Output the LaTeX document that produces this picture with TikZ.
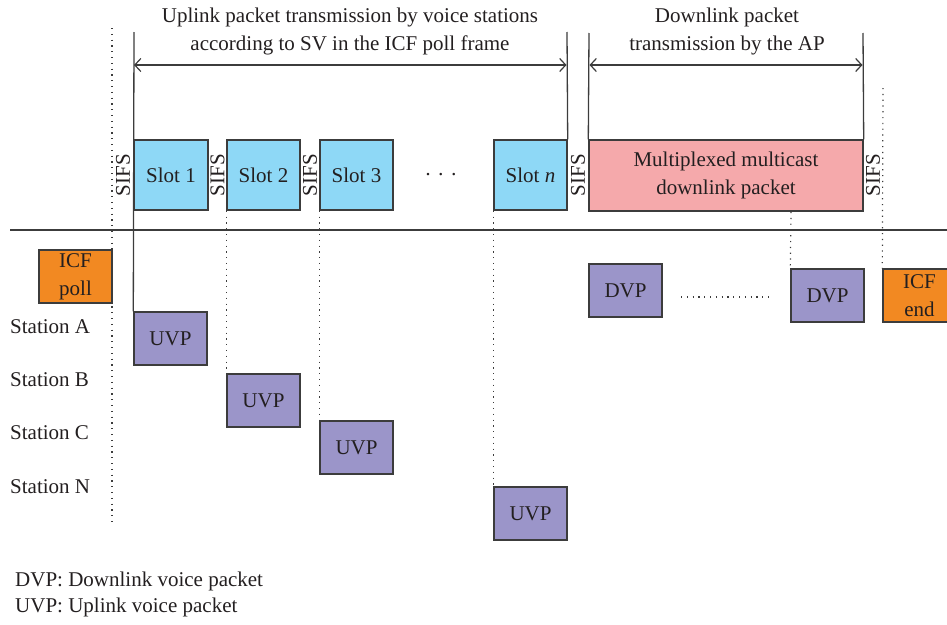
\documentclass[tikz,border=0pt]{standalone}
\usepackage{fontspec}
\setmainfont{Liberation Serif}
\usetikzlibrary{arrows.meta}
\definecolor{slotblue}{RGB}{142,216,246}
\definecolor{pinkfill}{RGB}{245,169,171}
\definecolor{purplefill}{RGB}{155,149,201}
\definecolor{orangefill}{RGB}{242,137,34}
\definecolor{edge}{RGB}{60,60,60}
\definecolor{ink}{RGB}{35,31,32}
\begin{document}
\begin{tikzpicture}[x=1pt,y=-1pt,
  every node/.style={font=\fontsize{21}{28}\selectfont, text=ink},
  pkt/.style={draw=edge, line width=1.4pt, minimum width=73pt, minimum height=53pt, inner sep=0pt, align=center},
  slotbox/.style={pkt, fill=slotblue, minimum height=70pt},
  uvpbox/.style={pkt, fill=purplefill},
  icfbox/.style={pkt, fill=orangefill},
  solidline/.style={draw=edge, line width=1.3pt},
  dotline/.style={draw=edge, line width=1.2pt, dash pattern=on 1.2pt off 4.6pt},
  span/.style={draw=edge, line width=1.2pt, {Straight Barb[length=6pt,width=13pt]}-{Straight Barb[length=6pt,width=13pt]}},
  sifs/.style={rotate=90, inner sep=0pt}
]
\useasboundingbox (0,0) rectangle (947,624);

% titles
\node[align=center] (uptitle) at (350,31) {Uplink packet transmission by voice stations\\according to SV in the ICF poll frame};
\node[align=center] (dntitle) at (727,31) {Downlink packet\\transmission by the AP};

% slots
\node[slotbox, minimum width=74pt] (slot1) at (171,175) {Slot 1};
\node[slotbox] (slot2) at (263.5,175) {Slot 2};
\node[slotbox] (slot3) at (356.5,175) {Slot 3};
\node[slotbox] (slotn) at (530.5,175) {Slot \textit{n}};
\node (dots) at (441,177) {·\hspace{6pt}·\hspace{6pt}·};
\node[pkt, fill=pinkfill, minimum width=274pt, minimum height=71pt] (mux) at (726,175.5) {Multiplexed multicast\\downlink packet};

% SIFS
\node[sifs] (s1) at (123,175) {SIFS};
\node[sifs] (s2) at (217.5,175) {SIFS};
\node[sifs] (s3) at (310,175) {SIFS};
\node[sifs] (s4) at (578,175) {SIFS};
\node[sifs] (s5) at (873,175) {SIFS};

% packets below
\node[icfbox] (icfpoll) at (75.5,276.5) {ICF\\poll};
\node[uvpbox] (uvpA) at (170.5,338.5) {UVP};
\node[uvpbox] (uvpB) at (263.5,400.5) {UVP};
\node[uvpbox] (uvpC) at (356.5,447.5) {UVP};
\node[uvpbox] (uvpN) at (530.5,513.5) {UVP};
\node[uvpbox] (dvp1) at (625.5,290.5) {DVP};
\node[uvpbox] (dvp2) at (827.5,295.5) {DVP};
\node[icfbox] (icfend) at (919.5,295.5) {ICF\\end};

% station labels
\node[anchor=west, inner sep=0pt] (stA) at (10,327) {Station A};
\node[anchor=west, inner sep=0pt] (stB) at (10,380) {Station B};
\node[anchor=west, inner sep=0pt] (stC) at (10,433) {Station C};
\node[anchor=west, inner sep=0pt] (stN) at (10,487) {Station N};

% legend
\node[anchor=west, inner sep=0pt] (leg1) at (15,581) {DVP: Downlink voice packet};
\node[anchor=west, inner sep=0pt] (leg2) at (15,607) {UVP: Uplink voice packet};

% coordinates
\coordinate (hl) at (10,230);
\coordinate (hr) at (947,230);
\coordinate (upL) at (134,32);
\coordinate (upR) at (567,32);
\coordinate (dnL) at (589,33);
\coordinate (dnR) at (863,33);
\coordinate (aUL) at (134,65);
\coordinate (aUR) at (566.5,65);
\coordinate (aDL) at (589.5,65);
\coordinate (aDR) at (862.5,65);
\coordinate (dotTop) at (112,28);
\coordinate (dotBot) at (112,523);
\coordinate (muxFoot) at (791,212);
\coordinate (endTop) at (883,88);
\coordinate (hdL) at (681,297);
\coordinate (hdR) at (771,297);

% solid lines
\draw[solidline] (hl) -- (hr);
\draw[solidline] (upL) -- (uvpA.north west);
\draw[solidline] (upR) -- (slotn.north east);
\draw[solidline] (dnL) -- (mux.north west);
\draw[solidline] (dnR) -- (mux.north east);
\draw[span] (aUL) -- (aUR);
\draw[span] (aDL) -- (aDR);

% dotted lines
\draw[dotline] (dotTop) -- (dotBot);
\draw[dotline] (slot2.south west) -- (uvpB.north west);
\draw[dotline] (slot3.south west) -- (uvpC.north west);
\draw[dotline] (slotn.south west) -- (uvpN.north west);
\draw[dotline] (muxFoot) -- (dvp2.north west);
\draw[dotline] (endTop) -- (icfend.north west);
\draw[dotline] (hdL) -- (hdR);
\end{tikzpicture}
\end{document}
